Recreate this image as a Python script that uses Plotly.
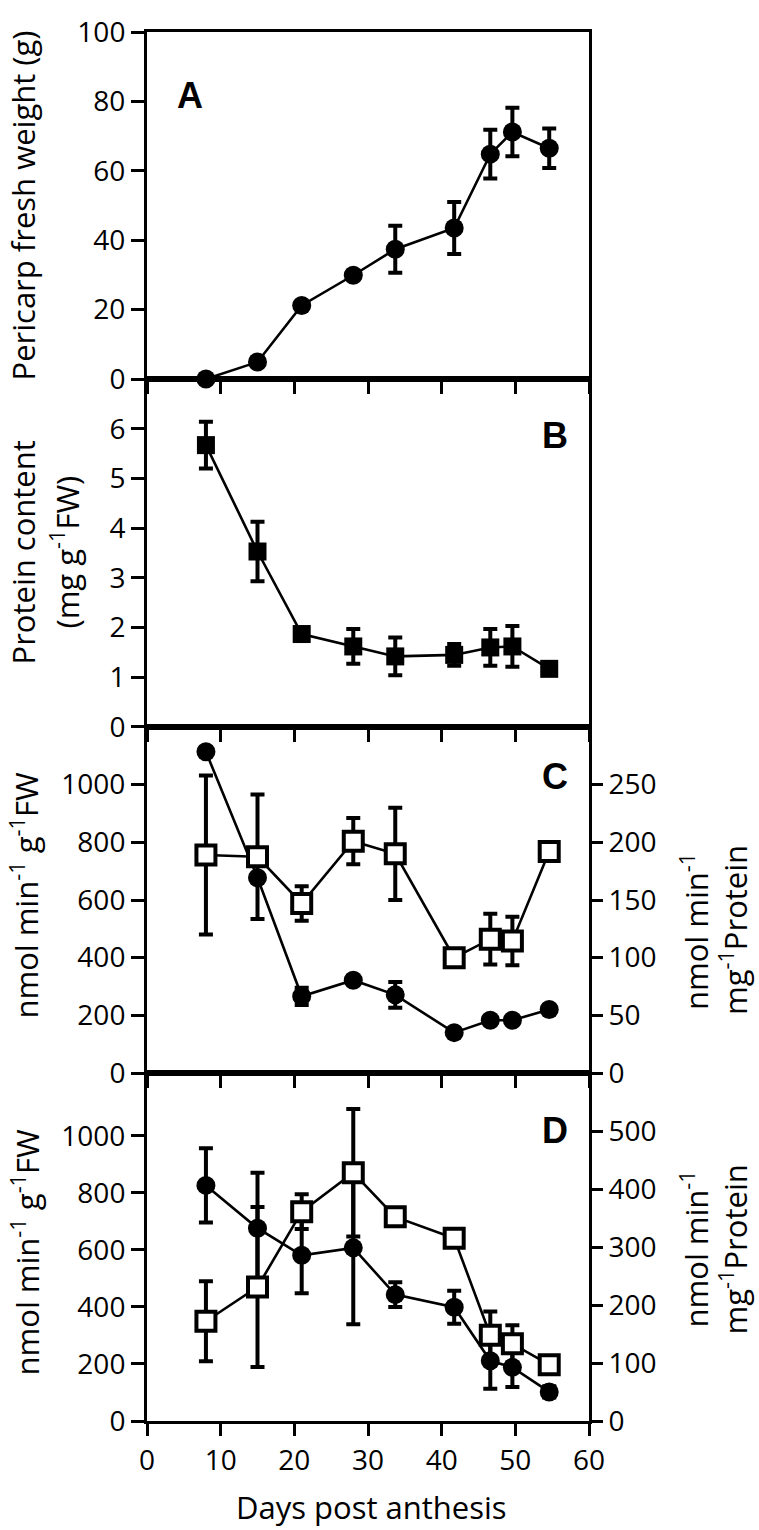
import plotly.graph_objects as go

# ---------------- data ----------------
days = [8, 15, 21, 28, 33.7, 41.7, 46.6, 49.6, 54.6]

# Panel A: pericarp fresh weight (g)
fresh_weight = [0, 4.9, 21.2, 29.9, 37.4, 43.5, 64.8, 71.2, 66.5]
fresh_weight_err = [0, 0, 0, 0, 6.8, 7.5, 7.0, 7.0, 5.7]

# Panel B: protein content (mg g-1 FW)
protein = [5.67, 3.53, 1.87, 1.62, 1.42, 1.45, 1.60, 1.62, 1.17]
protein_err = [0.47, 0.60, 0.10, 0.35, 0.38, 0.22, 0.37, 0.41, 0]

# Panel C: activity per FW (left) and per protein (right)
c_fw = [1114, 677, 266, 322, 271, 140, 183, 183, 220]
c_fw_err = [0, 0, 30, 0, 45, 0, 0, 0, 0]
c_prot = [189, 187.5, 147, 201, 190, 100, 116, 114.5, 192]
c_prot_err = [69, 54, 15, 20, 40, 0, 22, 21, 0]

# Panel D: activity per FW (left) and per protein (right)
d_fw = [826, 676, 581, 607, 443, 399, 211, 188, 102]
d_fw_err = [130, 194, 133, 268, 43, 58, 98, 69, 20]
d_prot = [172, 231, 361, 428, 352, 315, 148, 133, 97]
d_prot_err = [69, 138, 30, 110, 10, 0, 41, 32, 0]

x_ticks = [0, 10, 20, 30, 40, 50, 60]

# ---------------- layout geometry (page pixels) ----------------
W, H = 759, 1530
L, R_EDGE, T, B_EDGE = 147, 589, 12, 1421   # plot area
PW, PH = R_EDGE - L, B_EDGE - T


def px(x):
    return (x - L) / PW


def py(y):
    return (B_EDGE - y) / PH


FONT = "Open Sans"
TICKF = dict(family=FONT, size=28, color="black")

fig = go.Figure()


def err(arr):
    return dict(type="data", array=arr, visible=True, color="black",
                thickness=4, width=7)


line = dict(color="black", width=2.6)
circle = dict(symbol="circle", size=19, color="black")
fsquare = dict(symbol="square", size=18, color="black")
osquare = dict(symbol="square", size=19, color="white",
               line=dict(color="black", width=4))

fig.add_trace(go.Scatter(x=days, y=fresh_weight, error_y=err(fresh_weight_err),
                         mode="lines+markers", line=line, marker=circle,
                         xaxis="x", yaxis="y", cliponaxis=False))
fig.add_trace(go.Scatter(x=days, y=protein, error_y=err(protein_err),
                         mode="lines+markers", line=line, marker=fsquare,
                         xaxis="x2", yaxis="y2", cliponaxis=False))
fig.add_trace(go.Scatter(x=days, y=c_fw, error_y=err(c_fw_err),
                         mode="lines+markers", line=line, marker=circle,
                         xaxis="x3", yaxis="y3", cliponaxis=False))
fig.add_trace(go.Scatter(x=days, y=c_prot, error_y=err(c_prot_err),
                         mode="lines+markers", line=line, marker=osquare,
                         xaxis="x3", yaxis="y5", cliponaxis=False))
fig.add_trace(go.Scatter(x=days, y=d_fw, error_y=err(d_fw_err),
                         mode="lines+markers", line=line, marker=circle,
                         xaxis="x4", yaxis="y4", cliponaxis=False))
fig.add_trace(go.Scatter(x=days, y=d_prot, error_y=err(d_prot_err),
                         mode="lines+markers", line=line, marker=osquare,
                         xaxis="x4", yaxis="y6", cliponaxis=False))

dom = [py(1421), py(1068), py(717), py(364), py(12)]

common_x = dict(range=[0, 60], tickvals=x_ticks, ticks="outside", ticklen=12,
                tickwidth=3, tickcolor="black", showline=True, linewidth=3,
                linecolor="black", mirror=True, showgrid=False, zeroline=False,
                domain=[0, 1], tickfont=TICKF)
common_y = dict(ticks="outside", ticklen=13, tickwidth=3, tickcolor="black",
                showline=True, linewidth=3, linecolor="black", mirror=True,
                showgrid=False, zeroline=False, tickfont=TICKF,
                ticklabeloverflow="allow")
right_y = dict(ticks="outside", ticklen=11, tickwidth=3, tickcolor="black",
               showline=True, linewidth=3, linecolor="black",
               showgrid=False, zeroline=False, tickfont=TICKF, side="right",
               ticklabeloverflow="allow")

fig.update_layout(
    width=W, height=H,
    margin=dict(l=L, r=W - R_EDGE, t=T, b=H - B_EDGE, pad=0),
    paper_bgcolor="white", plot_bgcolor="white", showlegend=False,
    xaxis=dict(common_x, anchor="y", showticklabels=False),
    xaxis2=dict(common_x, anchor="y2", showticklabels=False),
    xaxis3=dict(common_x, anchor="y3", showticklabels=False),
    xaxis4=dict(common_x, anchor="y4", showticklabels=True),
    yaxis=dict(common_y, domain=[dom[3], dom[4]], range=[0, 100],
               tickvals=[0, 20, 40, 60, 80, 100], anchor="x"),
    yaxis2=dict(common_y, domain=[dom[2], dom[3]], range=[0, 7],
                tickvals=[0, 1, 2, 3, 4, 5, 6], anchor="x2"),
    yaxis3=dict(common_y, domain=[dom[1], dom[2]], range=[0, 1200],
                tickvals=[0, 200, 400, 600, 800, 1000], anchor="x3"),
    yaxis4=dict(common_y, domain=[dom[0], dom[1]], range=[0, 1220],
                tickvals=[0, 200, 400, 600, 800, 1000], anchor="x4"),
    yaxis5=dict(right_y, overlaying="y3", anchor="x3", range=[0, 300],
                tickvals=[0, 50, 100, 150, 200, 250]),
    yaxis6=dict(right_y, overlaying="y4", anchor="x4", range=[0, 600],
                tickvals=[0, 100, 200, 300, 400, 500]),
)

TITLEF = dict(family=FONT, size=31, color="black")
LETTERF = dict(family="Liberation Sans", size=36, color="black")

ann = []


def add_text(text, x, y, font, angle=0):
    ann.append(dict(text=text, x=px(x), y=py(y), xref="paper", yref="paper",
                    showarrow=False, textangle=angle, font=font,
                    xanchor="center", yanchor="middle"))


add_text("<b>A</b>", 190, 76, LETTERF)
add_text("<b>B</b>", 555, 421, LETTERF)
add_text("<b>C</b>", 555, 767, LETTERF)
add_text("<b>D</b>", 555, 1126, LETTERF)

add_text("Pericarp fresh weight (g)", 23, 188, TITLEF, -90)
add_text("Protein content", 23, 540, TITLEF, -90)
add_text("(mg g<sup>-1</sup>FW)", 65, 540, TITLEF, -90)
add_text("nmol min<sup>-1</sup> g<sup>-1</sup>FW", 25, 888, TITLEF, -90)
add_text("nmol min<sup>-1</sup> g<sup>-1</sup>FW", 25, 1250, TITLEF, -90)
add_text("nmol min<sup>-1</sup>", 694, 925, TITLEF, -90)
add_text("mg<sup>-1</sup>Protein", 733, 923, TITLEF, -90)
add_text("nmol min<sup>-1</sup>", 694, 1247, TITLEF, -90)
add_text("mg<sup>-1</sup>Protein", 733, 1247, TITLEF, -90)
add_text("Days post anthesis", 371, 1508, TITLEF)

fig.update_layout(annotations=ann)

# remove the browser's default 8px body margin so the figure fills the page
fig.write_html("out.html",
               config={"displayModeBar": False, "staticPlot": True},
               post_script="document.body.style.margin='0';"
                           "document.body.style.overflow='hidden';")
